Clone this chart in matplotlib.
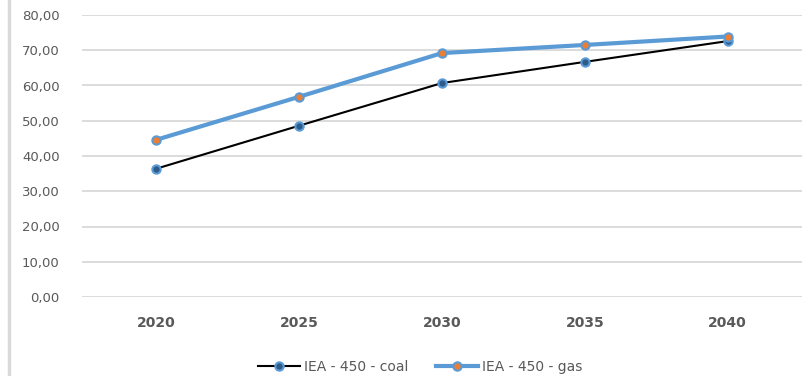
import matplotlib
matplotlib.use("Agg")
import matplotlib.pyplot as plt
from matplotlib.lines import Line2D

years = ["2020", "2025", "2030", "2035", "2040"]
coal = [36.4, 48.6, 60.7, 66.7, 72.6]
gas = [44.6, 56.8, 69.2, 71.5, 73.9]
y_ticks = [0, 10, 20, 30, 40, 50, 60, 70, 80]
y_labels = ["0,00", "10,00", "20,00", "30,00", "40,00", "50,00", "60,00", "70,00", "80,00"]

plt.rcParams["font.family"] = ["DejaVu Sans"]
text_color = "#595959"
grid_color = "#d9d9d9"

fig = plt.figure(figsize=(8.02, 3.76), dpi=100)
ax = fig.add_axes([82 / 802, 1 - 297 / 376, 1 - 82 / 802, (297 - 15) / 376])

x = list(range(len(years)))
ax.plot(x, coal, color="black", lw=1.5, marker="o", ms=6,
        mfc="#2e5c8a", mec="#5b9bd5", mew=1.5, zorder=3, label="IEA - 450 - coal")
ax.plot(x, gas, color="#5b9bd5", lw=3, marker="o", ms=6,
        mfc="#ed7d31", mec="#5b9bd5", mew=1.5, zorder=4, label="IEA - 450 - gas")

ax.set_xlim(-0.52, len(years) - 0.48)
ax.set_ylim(0, 80)
ax.set_yticks(y_ticks)
ax.set_yticklabels(y_labels)
ax.set_xticks(x)
ax.set_xticklabels(years)
ax.yaxis.grid(True, color=grid_color, lw=1.3)
ax.set_axisbelow(True)
for s in ax.spines.values():
    s.set_visible(False)
ax.tick_params(axis="both", length=0, colors=text_color, labelsize=9.5)
ax.tick_params(axis="y", pad=16)
ax.tick_params(axis="x", pad=14, labelsize=10)
for lbl in ax.get_xticklabels():
    lbl.set_fontweight("bold")

# left frame line
fig.add_artist(Line2D([9 / 802, 9 / 802], [0, 1], transform=fig.transFigure,
                      color=grid_color, lw=2.5))

handles = [
    Line2D([], [], color="black", lw=1.5, marker="o", ms=6, mfc="#2e5c8a", mec="#5b9bd5", mew=1.5),
    Line2D([], [], color="#5b9bd5", lw=3, marker="o", ms=6, mfc="#ed7d31", mec="#5b9bd5", mew=1.5),
]
fig.legend(handles, ["IEA - 450 - coal", "IEA - 450 - gas"], loc="center",
           bbox_to_anchor=(420 / 802, 1 - 367 / 376), ncol=2, frameon=False,
           fontsize=10, labelcolor=text_color, handlelength=3.0,
           handletextpad=0.3, columnspacing=2.0, borderpad=0)

fig.savefig("out.png", dpi=100)
